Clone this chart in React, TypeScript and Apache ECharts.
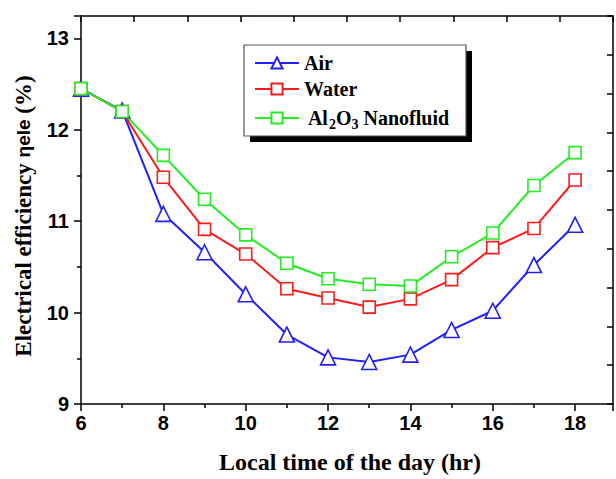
import React, { useEffect, useRef } from "react";
import * as echarts from "echarts";

const hours = [6, 7, 8, 9, 10, 11, 12, 13, 14, 15, 16, 17, 18];
const airValues = [12.45, 12.21, 11.08, 10.66, 10.2, 9.76, 9.51, 9.46, 9.54, 9.81, 10.02, 10.52, 10.96];
const waterValues = [12.45, 12.2, 11.48, 10.91, 10.64, 10.26, 10.16, 10.06, 10.15, 10.36, 10.71, 10.92, 11.45];
const nanoValues = [12.45, 12.2, 11.72, 11.24, 10.85, 10.54, 10.37, 10.31, 10.29, 10.61, 10.87, 11.39, 11.75];
const seriesNames = ["Air", "Water", "Al2O3 Nanofluid"];
const xTickLabels = ["6", "8", "10", "12", "14", "16", "18"];
const yTickLabels = ["9", "10", "11", "12", "13"];

const toPairs = (vals: number[]) => hours.map((h, i) => [h, vals[i]]);

export default function App() {
  const ref = useRef<HTMLDivElement>(null);
  useEffect(() => {
    document.body.style.margin = "0";
    const chart = echarts.init(ref.current!, null, { renderer: "svg" });
    const black = "#000";
    const sans = "Liberation Sans, Arial, sans-serif";
    const tickFont = { fontFamily: sans, fontWeight: "bold" as const, fontSize: 20, color: black };
    const serif = "Liberation Serif, Times New Roman, serif";
    const mkSeries = (name: string, vals: number[], color: string, symbol: string, size: number) => ({
      name,
      type: "line",
      data: toPairs(vals),
      symbol,
      symbolSize: size,
      showAllSymbol: true,
      lineStyle: { color, width: 2 },
      itemStyle: { color: "#fff", borderColor: color, borderWidth: 1.6 },
      emphasis: { disabled: true },
    });
    chart.setOption({
      animation: false,
      backgroundColor: "#fff",
      grid: { left: 81, right: 3, top: 16, bottom: 71 },
      graphic: [
        { type: "rect", shape: { x: 250, y: 51, width: 222, height: 91 }, style: { fill: "#000" }, z: 10 },
        { type: "rect", shape: { x: 244, y: 45, width: 222, height: 91 }, style: { fill: "#fff", stroke: "#555", lineWidth: 1.2 }, z: 11 },
        {
          type: "text",
          x: 23,
          y: 216,
          rotation: Math.PI / 2,
          z: 20,
          style: {
            text: "{a|Electrical efficiency }{b|ηele}{a| (%)}",
            align: "center",
            verticalAlign: "middle",
            rich: {
              a: { fontFamily: serif, fontWeight: "bold", fontSize: 23, fill: black },
              b: { fontFamily: sans, fontWeight: "bold", fontSize: 19, fill: black },
            },
          },
        },
      ],
      legend: {
        data: seriesNames,
        orient: "vertical",
        left: 254,
        top: 53,
        padding: 0,
        itemWidth: 44,
        itemHeight: 14,
        itemGap: 6,
        z: 20,
        formatter: (n: string) =>
          n === "Al2O3 Nanofluid" ? "{t| Al}{s|2}{t|O}{s|3}{t| Nanofluid}" : "{t|" + n + "}",
        textStyle: {
          rich: {
            t: { fontFamily: serif, fontWeight: "bold", fontSize: 20, lineHeight: 26, color: black },
            s: { fontFamily: serif, fontWeight: "bold", fontSize: 14, lineHeight: 14, color: black, padding: [12, 0, 0, 0] },
          },
        },
      },
      xAxis: [
        {
          type: "value",
          min: 6,
          max: 18.92,
          interval: 2,
          position: "bottom",
          name: "Local time of the day (hr)",
          nameLocation: "middle",
          nameGap: 46,
          nameTextStyle: { fontFamily: serif, fontWeight: "bold", fontSize: 24, color: black, padding: [0, 0, 0, 6] },
          axisLine: { onZero: false, lineStyle: { color: black, width: 1.5 } },
          axisTick: { inside: false, length: 7, lineStyle: { color: black, width: 1.5 } },
          minorTick: { show: true, splitNumber: 2, length: 4, lineStyle: { color: black, width: 1.5 } },
          splitLine: { show: false },
          axisLabel: {
            ...tickFont,
            margin: 9,
            showMaxLabel: false,
            formatter: (v: number) => (xTickLabels.includes(String(v)) ? String(v) : ""),
          },
        },
        {
          type: "value",
          min: 0,
          max: 10,
          interval: 1,
          position: "top",
          axisLine: { onZero: false, lineStyle: { color: black, width: 1.5 } },
          axisTick: { inside: true, length: 6, lineStyle: { color: black, width: 1.5 } },
          axisLabel: { show: false },
          splitLine: { show: false },
        },
      ],
      yAxis: [
        {
          type: "value",
          min: 9,
          max: 13.244,
          interval: 1,
          position: "left",
          axisLine: { onZero: false, lineStyle: { color: black, width: 1.5 } },
          axisTick: { inside: false, length: 7, lineStyle: { color: black, width: 1.5 } },
          minorTick: { show: true, splitNumber: 2, length: 4, lineStyle: { color: black, width: 1.5 } },
          splitLine: { show: false },
          axisLabel: {
            ...tickFont,
            margin: 12,
            showMaxLabel: false,
            formatter: (v: number) => (yTickLabels.includes(String(v)) ? String(v) : ""),
          },
        },
        {
          type: "value",
          min: 0,
          max: 10,
          interval: 1,
          position: "right",
          axisLine: { onZero: false, lineStyle: { color: black, width: 1.5 } },
          axisTick: { inside: true, length: 6, lineStyle: { color: black, width: 1.5 } },
          axisLabel: { show: false },
          splitLine: { show: false },
        },
      ],
      series: [
        mkSeries(seriesNames[0], airValues, "#1f1fff", "triangle", 15),
        mkSeries(seriesNames[1], waterValues, "#ff1a1a", "rect", 12),
        mkSeries(seriesNames[2], nanoValues, "#22ee22", "rect", 12),
      ],
    });
    return () => chart.dispose();
  }, []);
  return <div ref={ref} style={{ width: 616, height: 479 }} />;
}
